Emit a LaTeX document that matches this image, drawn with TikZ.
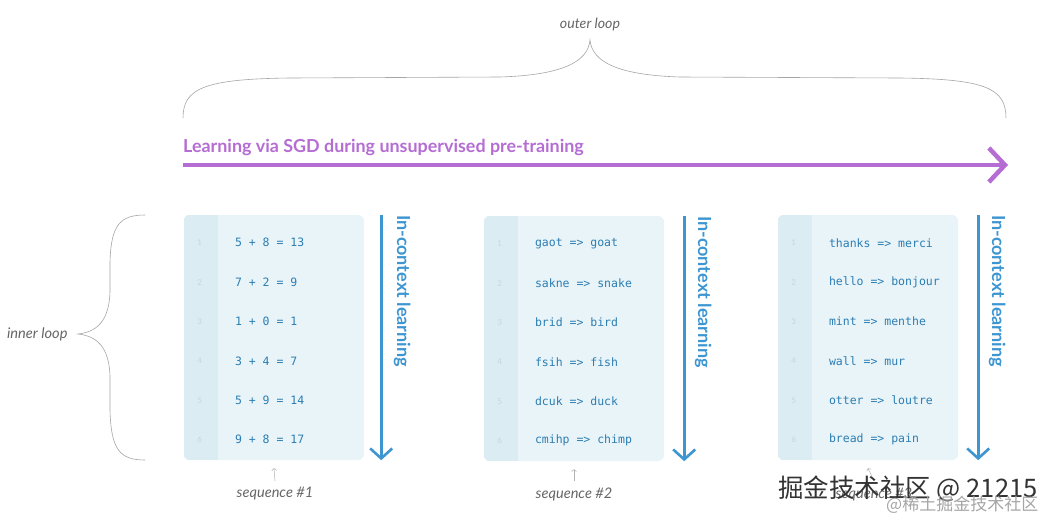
\documentclass[tikz,border=0pt]{standalone}
\usepackage{fontspec}
\setmainfont{Lato}
\setmonofont{DejaVu Sans Mono}
\newfontfamily\cjk{Noto Sans CJK SC}
\usetikzlibrary{positioning,arrows.meta}
\definecolor{sgdpurple}{HTML}{B56DD3}
\definecolor{iclblue}{HTML}{3D96D2}
\definecolor{codeblue}{HTML}{2C7DB3}
\definecolor{boxfill}{HTML}{E8F4F8}
\definecolor{colfill}{HTML}{DCECF3}
\definecolor{numgray}{HTML}{C6D6DF}
\definecolor{notegray}{HTML}{666666}
\tikzset{
  seqbox/.style={fill=boxfill, rounded corners=6pt, minimum width=180pt,
    minimum height=245pt, inner sep=0pt},
  seqrow/.style={anchor=west, font=\ttfamily\fontsize{11.5}{12}\selectfont,
    text=codeblue, inner sep=0pt},
  seqnum/.style={font=\fontsize{8}{9}\selectfont, text=numgray, inner sep=0pt},
  iclarrow/.style={draw=iclblue, line width=2.6pt,
    -{Straight Barb[length=10pt, width=22pt]}},
  icllabel/.style={rotate=-90, anchor=west, font=\bfseries\fontsize{18}{20}\selectfont,
    text=iclblue, inner sep=0pt},
  sgdarrow/.style={draw=sgdpurple, line width=4.5pt,
    -{Straight Barb[length=16pt, width=34pt]}},
  bracestyle/.style={draw=black!35, line width=0.6pt},
  notelabel/.style={font=\itshape\fontsize{14.6}{16}\selectfont, text=notegray},
  seqarrow/.style={draw=black!30, line width=0.5pt, -{Straight Barb[length=2pt, width=5pt]}},
  markbig/.style={font=\cjk\fontsize{25.5}{28}\selectfont, text=black!80, inner sep=0pt},
  marksmall/.style={font=\cjk\fontsize{17}{19}\selectfont, text=black!35, inner sep=0pt},
}

\begin{document}
\begin{tikzpicture}[x=1pt, y=-1pt]
  \fill[white] (0,0) rectangle (1050,520);
  \useasboundingbox (0,0) rectangle (1050,520);
  % outer loop
  \node[notelabel, font=\itshape\fontsize{14.2}{16}\selectfont] (outer) at (590,24) {outer loop};
  \draw[bracestyle] (183,118) .. controls (183,88) and (205,79) .. (290,78) -- (500,77)
    .. controls (562,75) and (588,62) .. (590,40)
    .. controls (592,62) and (618,75) .. (680,77) -- (900,78)
    .. controls (985,79) and (1006,88) .. (1006,118);
  % SGD arrow
  \node[anchor=base west, inner sep=0pt, text=sgdpurple,
    font=\bfseries\fontsize{17.9}{20}\selectfont] (sgd) at (183,152)
    {Learning via SGD during unsupervised pre-training};
  \coordinate (sgdstart) at (183,165);
  \coordinate (sgdend) at (1008,165);
  \draw[sgdarrow] (sgdstart) -- (sgdend);
  % inner loop
  \node[notelabel, anchor=east] (inner) at (71,334) {inner loop};
  \draw[bracestyle] (145,215) .. controls (120,215) and (111,225) .. (110,262) -- (110,292)
    .. controls (109,322) and (96,332) .. (78,334)
    .. controls (96,336) and (109,346) .. (110,376) -- (110,410)
    .. controls (111,450) and (120,460) .. (145,460);
  % sequence #1
  \node[seqbox] (s1) at (274,337.5) {};
  \begin{scope}
    \clip[rounded corners=6pt] (s1.north west) rectangle (s1.south east);
    \fill[colfill] (s1.north west) rectangle ([xshift=34pt]s1.south west);
  \end{scope}
  \foreach \row [count=\i] in {5 + 8 = 13, 7 + 2 = 9, 1 + 0 = 1, 3 + 4 = 7, 5 + 9 = 14, 9 + 8 = 17} {
    \node[seqnum] (s1n\i) at ([xshift=16pt, yshift={-28pt-39.4pt*(\i-1)}]s1.north west) {\i};
    \node[seqrow] (s1r\i) at ([xshift=51pt, yshift={-28pt-39.4pt*(\i-1)}]s1.north west) {\row};
  }
  \draw[iclarrow] ([xshift=17pt]s1.north east) -- ([xshift=17pt]s1.south east);
  \node[icllabel] (l1) at ([xshift=38pt]s1.north east) {In-context learning};
  \node[notelabel] (q1) at (275,494) {sequence \#1};
  \draw[seqarrow] ([yshift=3pt]q1.north) -- ([yshift=-8pt]s1.south);
  % sequence #2
  \node[seqbox] (s2) at (574,338.5) {};
  \begin{scope}
    \clip[rounded corners=6pt] (s2.north west) rectangle (s2.south east);
    \fill[colfill] (s2.north west) rectangle ([xshift=34pt]s2.south west);
  \end{scope}
  \foreach \row [count=\i] in {gaot => goat, sakne => snake, brid => bird, fsih => fish, dcuk => duck, cmihp => chimp} {
    \node[seqnum] (s2n\i) at ([xshift=16pt, yshift={-28pt-39.4pt*(\i-1)}]s2.north west) {\i};
    \node[seqrow] (s2r\i) at ([xshift=51pt, yshift={-28pt-39.4pt*(\i-1)}]s2.north west) {\row};
  }
  \draw[iclarrow] ([xshift=20pt]s2.north east) -- ([xshift=20pt]s2.south east);
  \node[icllabel] (l2) at ([xshift=39pt]s2.north east) {In-context learning};
  \node[notelabel] (q2) at (574,494) {sequence \#2};
  \draw[seqarrow] ([yshift=3pt]q2.north) -- ([yshift=-8pt]s2.south);
  % sequence #3
  \node[seqbox] (s3) at (868,337.5) {};
  \begin{scope}
    \clip[rounded corners=6pt] (s3.north west) rectangle (s3.south east);
    \fill[colfill] (s3.north west) rectangle ([xshift=34pt]s3.south west);
  \end{scope}
  \foreach \row [count=\i] in {thanks => merci, hello => bonjour, mint => menthe, wall => mur, otter => loutre, bread => pain} {
    \node[seqnum] (s3n\i) at ([xshift=16pt, yshift={-28pt-39.4pt*(\i-1)}]s3.north west) {\i};
    \node[seqrow] (s3r\i) at ([xshift=51pt, yshift={-28pt-39.4pt*(\i-1)}]s3.north west) {\row};
  }
  \draw[iclarrow] ([xshift=20pt]s3.north east) -- ([xshift=20pt]s3.south east);
  \node[icllabel] (l3) at ([xshift=39pt]s3.north east) {In-context learning};
  \node[notelabel] (q3) at (874,494) {sequence \#3};
  \draw[seqarrow] ([yshift=3pt]q3.north) -- ([yshift=-8pt]s3.south);
  % watermark
  \node[markbig, anchor=west] (mark1) at (778,489) {掘金技术社区 @ 21215};
  \node[marksmall, anchor=west] (mark2) at (886,505) {@稀土掘金技术社区};
\end{tikzpicture}
\end{document}
